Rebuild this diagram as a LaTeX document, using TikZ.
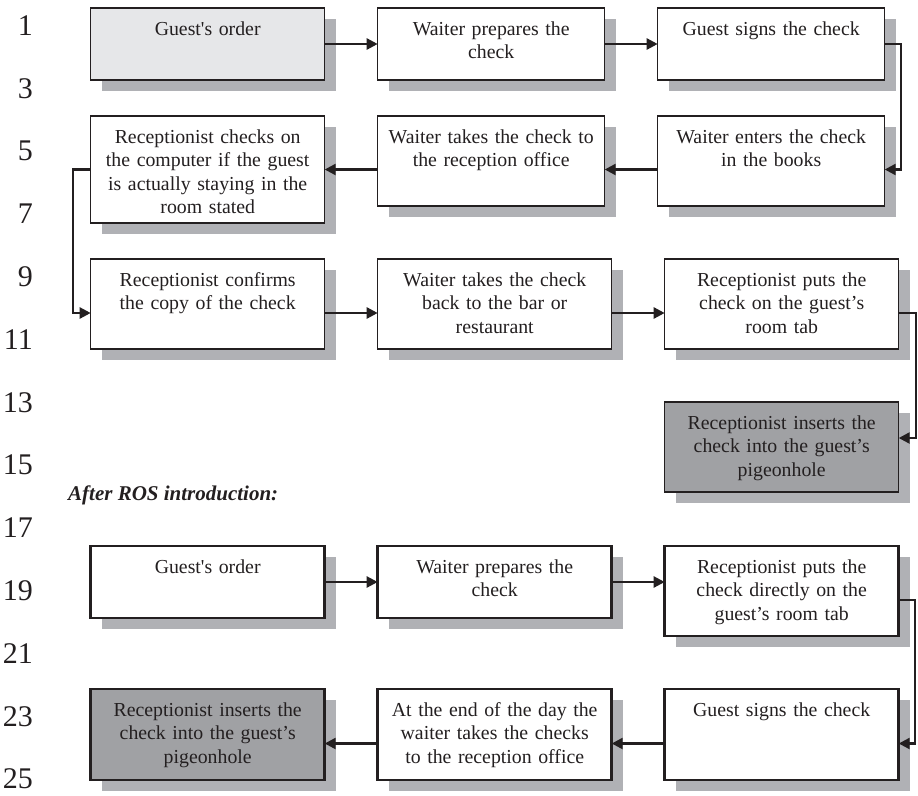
\documentclass[tikz,border=0pt]{standalone}
\usepackage{fontspec}
\setmainfont{Liberation Serif}
\usetikzlibrary{positioning,shadows,arrows.meta}

\definecolor{ink}{RGB}{35,31,32}
\definecolor{shade}{RGB}{176,177,181}
\definecolor{paleFill}{RGB}{230,231,233}
\definecolor{darkFill}{RGB}{160,161,164}

\begin{document}
\begin{tikzpicture} [x=1pt, y=1pt, node distance=53pt,
    stage/.style={draw=ink, line width=1.4pt, fill=white, text=ink,
    text width=#1, align=center, inner sep=0pt, outer sep=0pt, text height=27pt,
    font=\fontsize{19.8}{23.5}\selectfont,
    drop shadow={shadow xshift=11pt, shadow yshift=-11pt, fill=shade, opacity=1}},
    stage/.default=234pt,
    afterbox/.style={line width=2.8pt},
    startbox/.style={fill=paleFill},
    endbox/.style={fill=darkFill},
    con/.style={draw=ink, line width=2.4pt, -{Triangle[length=11pt,width=11pt]}},
    lineno/.style={anchor=east, inner sep=0pt, text=ink,
    font=\fontsize{30}{30}\selectfont}
    ]
    \useasboundingbox (0,0) rectangle (918,-795);

    % line numbers
    \foreach \n in {1,3,...,25}
      \node (l\n) [lineno] at (33,{-25.5-(\n-1)/2*62.8}) {\n};

    % before ROS
    \node (n1) [stage, startbox, text depth=45pt, anchor=north west] at (90.7,-8)
      {Guest\textquotesingle s order};
    \node (n2) [stage=227pt, text depth=45pt, right=of n1]
      {Waiter prepares the\\check};
    \node (n3) [stage=227pt, text depth=45pt, right=of n2]
      {Guest signs the check};

    \node (n6) [stage, text depth=80pt, anchor=north west] at (90.7,-116)
      {Receptionist checks on\\the computer if the guest\\is actually staying in the\\room stated};
    \node (n5) [stage=227pt, text depth=63pt, right=of n6.north east, anchor=north west]
      {Waiter takes the check to\\the reception office};
    \node (n4) [stage=227pt, text depth=63pt, right=of n5]
      {Waiter enters the check\\in the books};

    \node (n7) [stage, text depth=63pt, anchor=north west] at (90.7,-259)
      {Receptionist confirms\\the copy of the check};
    \node (n8) [stage, text depth=63pt, right=of n7]
      {Waiter takes the check\\back to the bar or\\restaurant};
    \node (n9) [stage, text depth=63pt, right=of n8]
      {Receptionist puts the\\check on the guest’s\\room tab};
    \node (n10) [stage, endbox, text depth=63pt, below=of n9]
      {Receptionist inserts the\\check into the guest’s\\pigeonhole};

    \node (after) [anchor=west, inner sep=0pt, text=ink,
      font=\fontsize{21}{21}\selectfont\bfseries\itshape] at (68,-495)
      {After ROS introduction:};

    % after ROS
    \node (m1) [stage, afterbox, text depth=45pt, anchor=north west] at (90.7,-546)
      {Guest\textquotesingle s order};
    \node (m2) [stage, afterbox, text depth=45pt, right=of m1]
      {Waiter prepares the\\check};
    \node (m3) [stage, afterbox, text depth=63pt, right=of m2.north east, anchor=north west]
      {Receptionist puts the\\check directly on the\\guest’s room tab};

    \node (m6) [stage, afterbox, endbox, text depth=64pt, anchor=north west] at (90.7,-689)
      {Receptionist inserts the\\check into the guest’s\\pigeonhole};
    \node (m5) [stage, afterbox, text depth=64pt, right=of m6]
      {At the end of the day the\\waiter takes the checks\\to the reception office};
    \node (m4) [stage, afterbox, text depth=64pt, right=of m5]
      {Guest signs the check};

    \draw [con] (n1) -- (n2);
    \draw [con] (n2) -- (n3);
    \draw [con] (n3.east) -- ++(16,0) |- (n4.east |- n6.east);
    \draw [con] (n4.west |- n6.east) -- (n5.east |- n6.east);
    \draw [con] (n5.west |- n6.east) -- (n6.east);
    \draw [con] (n6.west) -- ++(-18,0) |- ([yshift=-9pt]n7.west);
    \draw [con] ([yshift=-9pt]n7.east) -- ([yshift=-9pt]n8.west);
    \draw [con] ([yshift=-9pt]n8.east) -- ([yshift=-9pt]n9.west);
    \draw [con] ([yshift=-9pt]n9.east) -- ++(17,0) |- ([yshift=9pt]n10.east);

    \draw [con] (m1) -- (m2);
    \draw [con] (m2.east) -- (m2.east -| m3.west);
    \draw [con] ([yshift=-9pt]m3.east) -- ++(16.5,0) |- ([yshift=-9pt]m4.east);
    \draw [con] ([yshift=-9pt]m4.west) -- ([yshift=-9pt]m5.east);
    \draw [con] ([yshift=-9pt]m5.west) -- ([yshift=-9pt]m6.east);
  \end{tikzpicture}
\end{document}
